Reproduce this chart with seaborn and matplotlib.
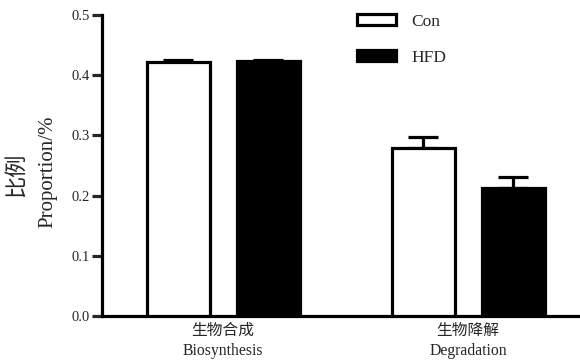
import matplotlib
matplotlib.use("Agg")
import matplotlib.pyplot as plt
import seaborn as sns
import pandas as pd

categories = ["生物合成\nBiosynthesis", "生物降解\nDegradation"]
groups = ["Con", "HFD"]
con_values = [0.422, 0.279]
hfd_values = [0.423, 0.212]
con_err = [0.003, 0.019]
hfd_err = [0.003, 0.019]
yticks = [0.0, 0.1, 0.2, 0.3, 0.4, 0.5]

sns.set_theme(style="ticks")
fams = ["Liberation Serif", "Noto Sans CJK SC"]
plt.rcParams["font.family"] = fams

df = pd.DataFrame({
    "category": categories * 2,
    "group": [groups[0]] * 2 + [groups[1]] * 2,
    "value": con_values + hfd_values,
    "err": con_err + hfd_err,
})

fig = plt.figure(figsize=(5.8, 3.63), dpi=100)
ax = fig.add_axes([0.176, 0.1295, 0.824, 0.8292])

lw = 2.3
sns.barplot(data=df, x="category", y="value", hue="group", order=categories,
            hue_order=groups, palette={"Con": "white", "HFD": "black"},
            edgecolor="black", linewidth=lw, width=0.735, gap=0.3,
            errorbar=None, ax=ax, zorder=3)

# error bars (upper only), positioned from seaborn's bars
for cont, g in zip(ax.containers, groups):
    sub = df[df["group"] == g]
    for rect, (_, row) in zip(cont.patches, sub.iterrows()):
        xc = rect.get_x() + rect.get_width() / 2
        ax.errorbar(xc, row["value"], yerr=[[0], [row["err"]]], fmt="none",
                    ecolor="black", elinewidth=lw, capsize=10.5, capthick=lw,
                    zorder=2)

ax.set_xlim(-0.494, 1.457)
ax.set_ylim(0, 0.5)
ax.set_yticks(yticks)
ax.set_yticklabels([f"{t:.1f}" for t in yticks], fontsize=10.5)
ax.tick_params(axis="y", length=7, width=lw, direction="out", pad=2)
ax.tick_params(axis="x", length=0, pad=5)
for lab in ax.get_xticklabels():
    lab.set_fontsize(11.3)
    lab.set_linespacing(1.3)
for s in ["top", "right"]:
    ax.spines[s].set_visible(False)
for s in ["left", "bottom"]:
    ax.spines[s].set_linewidth(lw)
    ax.spines[s].set_color("black")
ax.set_xlabel("")
ax.set_ylabel("")

fig.text(0.03, 0.518, "比例", rotation=90, ha="center", va="center", fontsize=16,
         family=fams)
fig.text(0.082, 0.526, "Proportion/%", rotation=90, ha="center", va="center",
         fontsize=15, family=fams)

leg = ax.legend(loc="upper left", bbox_to_anchor=(0.516, 1.032), frameon=False,
                fontsize=12.5, handlelength=2.2, handleheight=0.6,
                labelspacing=1.15, borderpad=0, handletextpad=0.9)
for h in leg.legend_handles:
    h.set_linewidth(lw)
    h.set_edgecolor("black")

fig.savefig("out.png", dpi=100)
